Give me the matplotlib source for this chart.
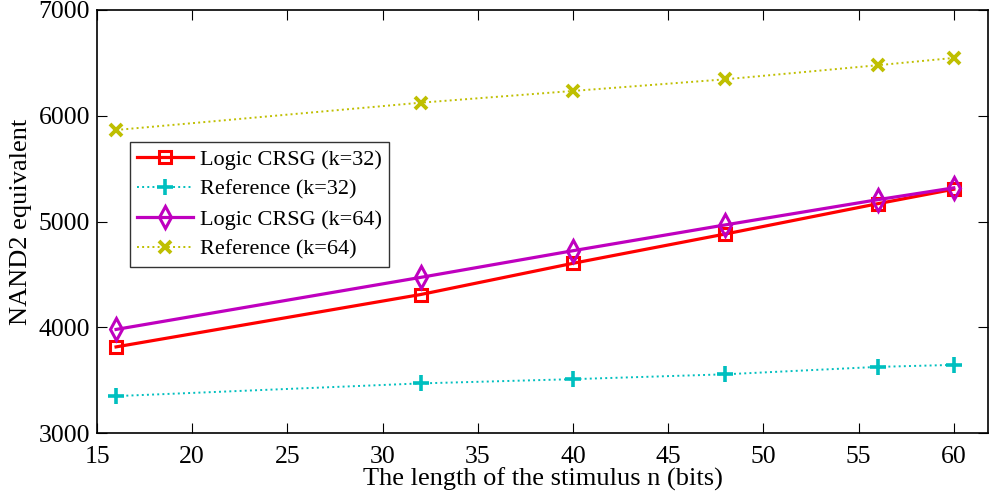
import matplotlib.pyplot as plt
import numpy as np

plt.rcParams['font.family'] = ['Liberation Serif', 'DejaVu Serif']

# stimulus length n (bits)
n_bits = [16, 32, 40, 48, 56, 60]

logic_k32 = [3815, 4310, 4605, 4882, 5168, 5305]
ref_k32 = [3350, 3470, 3510, 3556, 3626, 3645]
logic_k64 = [3980, 4472, 4724, 4968, 5206, 5318]
ref_k64 = [5865, 6123, 6234, 6344, 6477, 6546]

fig = plt.figure(figsize=(9.9, 4.95), dpi=100)
ax = fig.add_axes([0.098, 0.125, 0.9, 0.855])

ax.plot(n_bits, logic_k32, '-s', color=(1, 0, 0), lw=2.3, ms=9,
        mfc='none', mew=2.2, label='Logic CRSG (k=32)')
ax.plot(n_bits, ref_k32, ':+', color=(0, 0.75, 0.75), lw=1.4, ms=11,
        mew=2.6, label='Reference (k=32)')
ax.plot(n_bits, logic_k64, '-d', color=(0.75, 0, 0.75), lw=2.3, ms=11,
        mfc='none', mew=2.2, label='Logic CRSG (k=64)')
ax.plot(n_bits, ref_k64, ':x', color=(0.75, 0.75, 0), lw=1.4, ms=8,
        mew=2.8, label='Reference (k=64)')

ax.set_xlim(15, 61.8)
ax.set_ylim(3000, 7000)
ax.set_xticks(np.arange(15, 61, 5))
ax.set_yticks(np.arange(3000, 7001, 1000))
ax.tick_params(direction='in', top=True, right=True, length=7, width=0.8,
               labelsize=18.5)
ax.tick_params(axis='x', pad=9)
ax.tick_params(axis='y', pad=5)
for s in ax.spines.values():
    s.set_linewidth(1.2)

ax.set_xlabel('The length of the stimulus n (bits)', fontsize=19, labelpad=0)
ax.set_ylabel('NAND2 equivalent', fontsize=19, labelpad=5)

leg = ax.legend(loc='upper left', bbox_to_anchor=(0.037, 0.688), fontsize=16,
                frameon=True, fancybox=False, edgecolor='black',
                borderpad=0.33, labelspacing=0.42, handlelength=2.5,
                handletextpad=0.3, borderaxespad=0)
leg.get_frame().set_linewidth(1.0)

fig.savefig('out.png', dpi=100)
